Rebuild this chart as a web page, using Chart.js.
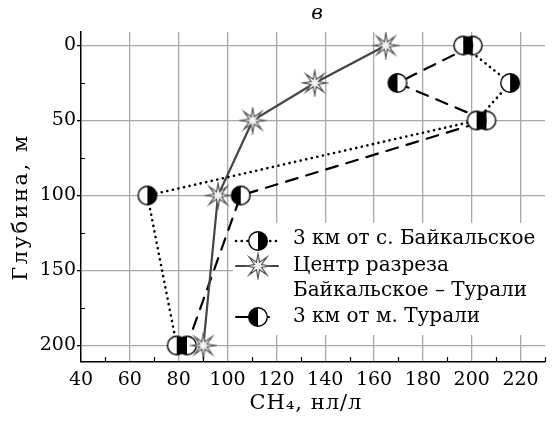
<!DOCTYPE html>
<html>
<head>
<meta charset="utf-8">
<script src="https://cdn.jsdelivr.net/npm/chart.js@4"></script>
<style>
  html, body { margin: 0; padding: 0; background: #fff; }
</style>
</head>
<body>
<canvas id="c" width="557" height="427"></canvas>
<script>
// глубины, м
const depths = [0, 25, 50, 100, 200];
// CH4, нл/л
const baikalskoe = [196.5, 215.7, 202, 67.2, 79.2];
const centerLine = [164.8, 135.7, 110.3, 96.1, 90.1];
const turali = [200.4, 169.6, 206, 105.4, 83.4];

const xTicks = [40, 60, 80, 100, 120, 140, 160, 180, 200, 220];
const yTicks = [0, 50, 100, 150, 200];
const xMinor = [50, 70, 90, 110, 130, 150, 170, 190, 210, 230];
const yMinor = [25, 75, 125, 175];

const legendRows = ["3 км от с. Байкальское", "Центр разреза", "Байкальское – Турали", "3 км от м. Турали"];
const panelLetter = "в";
const xTitle = "CH₄, нл/л";
const yTitle = "Глубина, м";

const SERIF = "'DejaVu Serif', 'Liberation Serif', serif";
const GRID = "#a8a8a8";
const DOTTED = [0.1, 5.6];
const DASHED = [12, 9];

function halfDot(leftBlack) {
  const c = document.createElement("canvas");
  c.width = c.height = 24;
  const g = c.getContext("2d");
  g.beginPath(); g.arc(12, 12, 9.3, 0, Math.PI * 2);
  g.fillStyle = "#fff"; g.fill();
  g.beginPath(); g.moveTo(12, 12);
  if (leftBlack) g.arc(12, 12, 9.3, Math.PI / 2, Math.PI * 1.5);
  else g.arc(12, 12, 9.3, -Math.PI / 2, Math.PI / 2);
  g.closePath(); g.fillStyle = "#000"; g.fill();
  g.beginPath(); g.arc(12, 12, 9.3, 0, Math.PI * 2);
  g.lineWidth = 1.4; g.strokeStyle = "#000"; g.stroke();
  return c;
}

function starMark() {
  const c = document.createElement("canvas");
  c.width = c.height = 28;
  const g = c.getContext("2d");
  g.beginPath();
  for (let i = 0; i < 16; i++) {
    const r = i % 2 ? 4 : 12.5;
    const a = -Math.PI / 2 + i * Math.PI / 8;
    const px = 14 + r * Math.cos(a), py = 14 + r * Math.sin(a);
    i ? g.lineTo(px, py) : g.moveTo(px, py);
  }
  g.closePath();
  g.fillStyle = "#f2f2f2"; g.fill();
  g.lineWidth = 1.2; g.strokeStyle = "#555"; g.stroke();
  return c;
}

const dotBaik = halfDot(false);
const dotTur = halfDot(true);
const star = starMark();

const pts = (xs) => depths.map((d, i) => ({ x: xs[i], y: d }));

const lineDs = (xs, color, width, dash) => ({
  data: pts(xs), showLine: true, pointRadius: 0, borderColor: color,
  borderWidth: width, borderDash: dash, borderCapStyle: "round", order: 2,
});
const markDs = (xs, img, order) => ({
  data: pts(xs), showLine: false, pointStyle: img, pointRadius: 11, order,
});

const decor = {
  id: "decor",
  afterDatasetsDraw(chart) {
    const { ctx, chartArea: a } = chart;
    ctx.save();
    // легенда
    ctx.fillStyle = "#fff";
    ctx.fillRect(233, 223, a.right - 233 + 1, 112);
    const sample = (y, color, width, dash, img) => {
      ctx.beginPath();
      ctx.setLineDash(dash);
      ctx.lineCap = "round";
      ctx.strokeStyle = color; ctx.lineWidth = width;
      ctx.moveTo(236, y); ctx.lineTo(278, y); ctx.stroke();
      ctx.setLineDash([]);
      ctx.drawImage(img, 258 - img.width / 2, y - img.height / 2);
    };
    sample(241, "#000", 2.6, DOTTED, dotBaik);
    sample(266, "#444", 2.2, [], star);
    sample(317, "#000", 2.2, DASHED, dotTur);
    ctx.fillStyle = "#000";
    ctx.font = "20px " + SERIF;
    ctx.textBaseline = "middle";
    ctx.textAlign = "left";
    [239, 266, 291, 317].forEach((y, i) => ctx.fillText(legendRows[i], 293, y));
    ctx.restore();
  },
  afterDraw(chart) {
    const { ctx, chartArea: a, scales: { x, y } } = chart;
    ctx.save();
    ctx.strokeStyle = "#000";
    ctx.lineWidth = 1.2;
    ctx.beginPath();
    xMinor.forEach((v) => {
      const px = Math.round(x.getPixelForValue(v)) + 0.5;
      ctx.moveTo(px, a.bottom); ctx.lineTo(px, a.bottom - 5);
    });
    yMinor.forEach((v) => {
      const py = Math.round(y.getPixelForValue(v)) + 0.5;
      ctx.moveTo(a.left, py); ctx.lineTo(a.left + 4, py);
    });
    ctx.stroke();
    ctx.fillStyle = "#000";
    ctx.textAlign = "center";
    ctx.textBaseline = "middle";
    ctx.font = "italic 20px " + SERIF;
    ctx.fillText(panelLetter, 317, 14);
    ctx.font = "21px " + SERIF;
    ctx.letterSpacing = "1px";
    ctx.fillText(xTitle, 306, 404);
    ctx.letterSpacing = "2.5px";
    ctx.translate(22, 207);
    ctx.rotate(-Math.PI / 2);
    ctx.fillText(yTitle, 0, 0);
    ctx.restore();
  },
};

new Chart(document.getElementById("c"), {
  type: "scatter",
  data: {
    datasets: [
      markDs(centerLine, star, 0),
      markDs(baikalskoe, dotBaik, 1),
      markDs(turali, dotTur, 1),
      lineDs(baikalskoe, "#000", 2.6, DOTTED),
      lineDs(centerLine, "#444", 2.2, []),
      lineDs(turali, "#000", 2.2, DASHED),
    ],
  },
  options: {
    responsive: false,
    animation: false,
    events: [],
    devicePixelRatio: 1,
    layout: { padding: { top: 32, right: 5, left: 0, bottom: 0 } },
    plugins: { legend: { display: false }, tooltip: { enabled: false } },
    scales: {
      x: {
        type: "linear", min: 40, max: 230,
        afterBuildTicks: (s) => { s.ticks = xTicks.map((v) => ({ value: v })); },
        afterFit: (s) => { s.height = 65; },
        grid: { color: (c) => (c.tick && c.tick.value === 40 ? "rgba(0,0,0,0)" : GRID), lineWidth: 1.3, drawTicks: false },
        border: { color: "#000", width: 1.5 },
        ticks: { color: "#000", font: { family: SERIF, size: 19 }, padding: 7, maxRotation: 0 },
      },
      y: {
        type: "linear", reverse: true, min: -9, max: 211,
        afterBuildTicks: (s) => { s.ticks = yTicks.map((v) => ({ value: v })); },
        afterFit: (s) => { s.width = 81; },
        grid: { color: GRID, lineWidth: 1.3, tickLength: 4, tickColor: "#000" },
        border: { color: "#000", width: 1.5 },
        ticks: { color: "#000", font: { family: SERIF, size: 19 }, padding: 1 },
      },
    },
  },
  plugins: [decor],
});
</script>
</body>
</html>
